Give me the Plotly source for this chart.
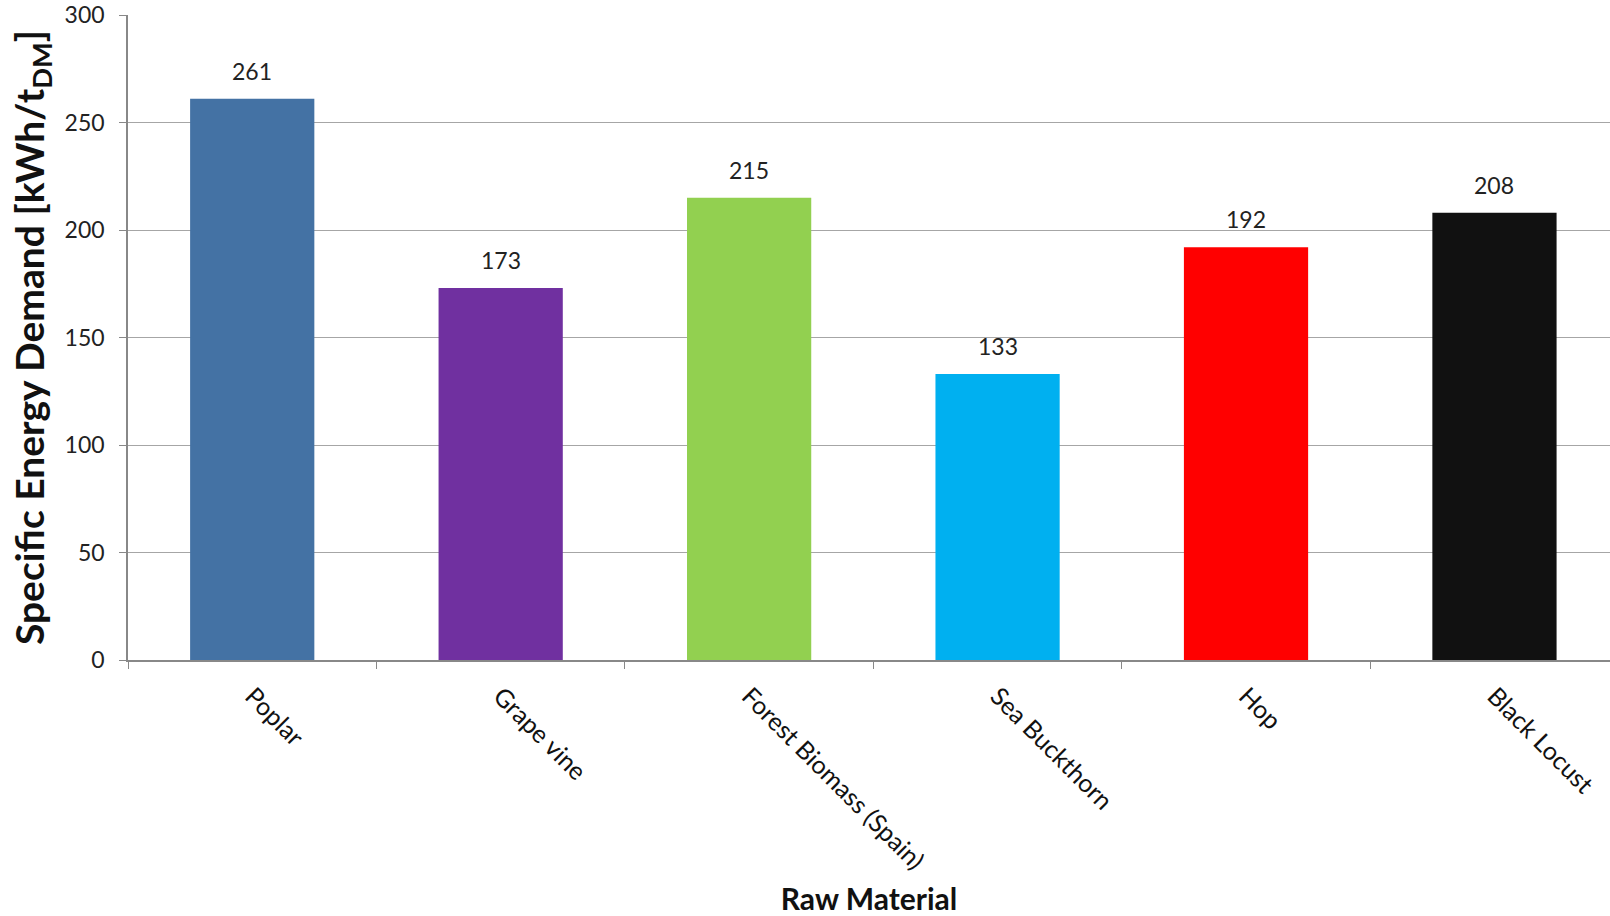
import plotly.graph_objects as go

categories = ["Poplar", "Grape vine", "Forest Biomass (Spain)", "Sea Buckthorn", "Hop", "Black Locust"]
values = [261, 173, 215, 133, 192, 208]
colors = ["#4472A4", "#7030A0", "#92D050", "#00B0F0", "#FF0000", "#111111"]
y_ticks = [0, 50, 100, 150, 200, 250, 300]

FONT = "Lato"

fig = go.Figure()
fig.add_trace(go.Bar(
    x=categories,
    y=values,
    marker=dict(color=colors, line=dict(width=0)),
    width=0.5,
    showlegend=False,
))

for c, v in zip(categories, values):
    fig.add_annotation(
        x=c, y=v, text=str(v), showarrow=False,
        yanchor="middle", yshift=28,
        font=dict(family=FONT, size=23, color="#222222"),
    )

fig.update_layout(
    width=1610, height=916,
    margin=dict(l=128, r=0, t=15, b=256, autoexpand=False),
    paper_bgcolor="white",
    plot_bgcolor="white",
    font=dict(family=FONT, size=23, color="#222222"),
    bargap=0.5,
)

fig.update_xaxes(
    type="category",
    range=[-0.5, 5.465],
    tickangle=45,
    tickson="boundaries",
    ticks="outside",
    ticklen=7,
    tickcolor="#888888",
    showline=True,
    linecolor="#888888",
    linewidth=1.5,
    showgrid=False,
    tickfont=dict(family=FONT, size=25, color="#111111"),
    ticklabelstandoff=10,
    title=dict(text="<b>Raw Material</b>", font=dict(family=FONT, size=30, color="#111111"), standoff=20),
    automargin=False,
)

fig.update_yaxes(
    range=[0, 300],
    tickvals=y_ticks,
    ticks="outside",
    ticklen=7,
    tickcolor="#888888",
    showline=True,
    linecolor="#888888",
    linewidth=1.5,
    showgrid=True,
    gridcolor="#A6A6A6",
    gridwidth=1.2,
    zeroline=False,
    tickfont=dict(family=FONT, size=23, color="#222222"),
    ticklabelstandoff=10,
    title=dict(text="<b>Specific Energy Demand [kWh/t<sub>DM</sub>]</b>", font=dict(family=FONT, size=39, color="#111111"), standoff=8),
    automargin=False,
)

fig.write_html("out.html")
